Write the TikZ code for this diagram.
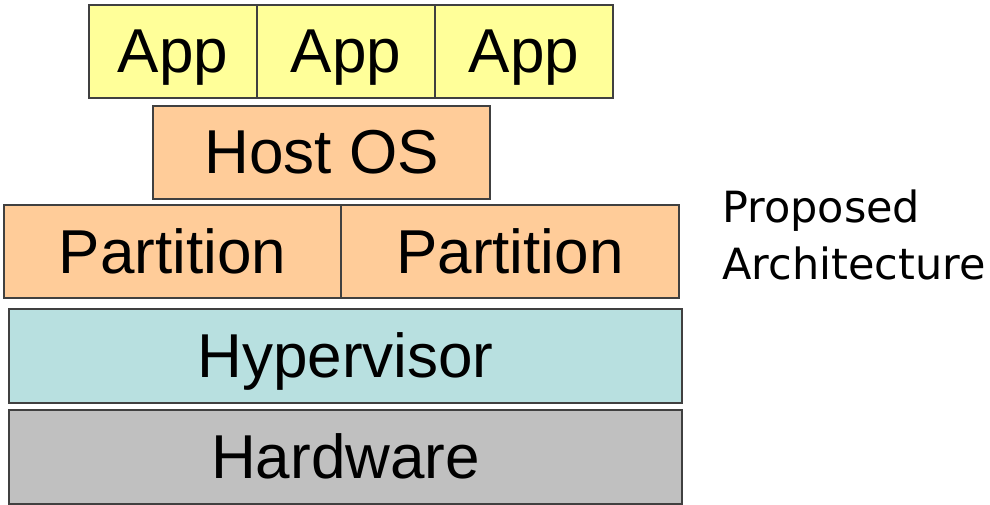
\documentclass[tikz,border=0pt]{standalone}
\usepackage{fontspec}
\setmainfont{Liberation Sans}
\newfontfamily\notefont{DejaVu Sans}
\definecolor{appyellow}{HTML}{FFFF99}
\definecolor{osorange}{HTML}{FFCC99}
\definecolor{hvcyan}{HTML}{B8E0E0}
\definecolor{hwgray}{HTML}{C0C0C0}
\definecolor{edgegray}{HTML}{404040}
\tikzset{
  layer/.style={draw=edgegray, line width=2pt, inner sep=0pt, anchor=north west,
    text height=58pt, text depth=15pt,
    font=\fontsize{62}{70}\selectfont, text=black},
}
\begin{document}
\begin{tikzpicture}[x=1pt, y=-1pt]
\useasboundingbox (0,0) rectangle (990,505);
% application row
\node[layer, fill=appyellow, minimum width=168pt, minimum height=93pt] (app1) at (88,4) {App};
\node[layer, fill=appyellow, minimum width=178pt, minimum height=93pt] (app2) at (256,4) {App};
\node[layer, fill=appyellow, minimum width=178pt, minimum height=93pt] (app3) at (434,4) {App};
% host operating system
\node[layer, fill=osorange, minimum width=337pt, minimum height=93pt] (host) at (152,105) {Host OS};
% partitions
\node[layer, fill=osorange, minimum width=337pt, minimum height=93pt] (part1) at (3,204) {Partition};
\node[layer, fill=osorange, minimum width=338pt, minimum height=93pt] (part2) at (340,204) {Partition};
% hypervisor and hardware
\node[layer, fill=hvcyan, minimum width=673pt, minimum height=94pt] (hyp) at (8,308) {Hypervisor};
\node[layer, fill=hwgray, minimum width=673pt, minimum height=94pt] (hw) at (8,409) {Hardware};
% caption
\node[anchor=north west, align=left, inner sep=0pt, font=\notefont\fontsize{43}{57}\selectfont] (note) at (722,190) {Proposed\\Architecture};
\end{tikzpicture}
\end{document}
